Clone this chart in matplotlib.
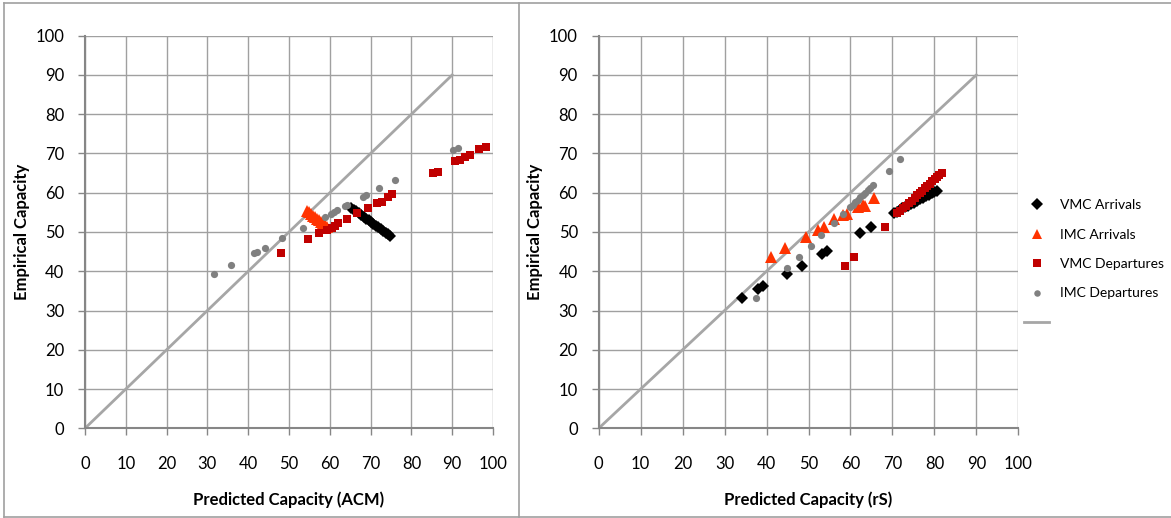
import matplotlib
matplotlib.use("Agg")
import matplotlib.pyplot as plt
from matplotlib.lines import Line2D

plt.rcParams["font.family"] = ["Lato", "DejaVu Sans"]

# ---- left panel: predicted by ACM ----
acm_vmc_arr_x = [65.3, 65.9, 66.5, 67.1, 67.7, 68.3, 68.9, 69.5, 70.1, 70.7, 71.3, 71.9, 72.5, 73.1, 73.7, 74.2, 74.7]
acm_vmc_arr_y = [56.2, 55.7, 55.3, 54.8, 54.4, 53.9, 53.4, 53.0, 52.5, 52.1, 51.6, 51.2, 50.7, 50.3, 49.8, 49.4, 49.0]
acm_imc_arr_x = [54.3, 54.8, 55.3, 55.8, 56.3, 56.8, 57.3, 57.8, 58.3, 58.8, 59.3]
acm_imc_arr_y = [55.4, 55.0, 54.6, 54.2, 53.8, 53.4, 53.0, 52.6, 52.2, 51.8, 51.4]
acm_vmc_dep_x = [48.0, 54.6, 57.4, 59.2, 60.5, 61.3, 62.1, 64.1, 66.6, 69.4, 71.5, 72.7, 74.3, 75.2,
                 85.3, 86.5, 90.7, 91.9, 93.1, 94.4, 96.6, 98.3]
acm_vmc_dep_y = [44.6, 48.1, 49.7, 50.5, 50.9, 51.5, 52.2, 53.3, 54.8, 56.2, 57.3, 57.7, 59.0, 59.6,
                 65.0, 65.3, 68.0, 68.3, 69.1, 69.6, 71.1, 71.6]
acm_imc_dep_x = [31.7, 35.8, 41.4, 42.2, 44.1, 48.4, 53.5, 58.8, 60.3, 61.0, 61.8, 63.7, 64.2,
                 68.2, 68.9, 72.1, 76.0, 90.3, 91.3]
acm_imc_dep_y = [39.3, 41.6, 44.6, 45.0, 46.0, 48.4, 51.1, 53.9, 54.7, 55.1, 55.5, 56.6, 56.9,
                 59.0, 59.4, 61.1, 63.2, 70.9, 71.3]

# ---- right panel: predicted by rS ----
rs_vmc_arr_x = [34.1, 38.0, 39.2, 44.8, 48.4, 53.1, 54.3, 62.3, 64.8,
                70.3, 71.0, 71.7, 72.4, 73.1, 73.8, 74.5, 75.2, 75.9, 76.6, 77.3, 78.0, 78.7, 79.4, 80.0, 80.7]
rs_vmc_arr_y = [33.1, 35.4, 36.2, 39.3, 41.4, 44.4, 45.2, 49.8, 51.2,
                54.8, 55.2, 55.6, 56.0, 56.3, 56.7, 57.1, 57.5, 57.9, 58.3, 58.7, 59.1, 59.5, 59.9, 60.2, 60.4]
rs_imc_arr_x = [41.1, 44.4, 49.4, 52.3, 53.7, 56.1, 58.3, 59.1, 61.9, 62.9, 63.5, 65.7]
rs_imc_arr_y = [43.7, 45.8, 48.8, 50.5, 51.2, 53.2, 54.3, 54.5, 56.3, 56.9, 56.6, 58.6]
rs_vmc_dep_x = [58.7, 60.9, 68.2, 71.0, 71.8, 72.5, 73.2, 73.9, 74.6, 75.3, 75.9, 76.5, 77.1, 77.7,
                78.3, 78.9, 79.5, 80.1, 80.7, 81.2, 81.7]
rs_vmc_dep_y = [41.4, 43.7, 51.2, 54.8, 55.4, 56.0, 56.7, 57.4, 58.0, 58.7, 59.3, 59.9, 60.5, 61.1,
                61.7, 62.3, 62.9, 63.5, 64.1, 64.6, 65.0]
rs_imc_dep_x = [37.4, 44.8, 47.8, 50.6, 53.0, 56.1, 58.2, 59.9, 60.5, 61.1, 61.7, 62.3, 62.9, 63.5,
                64.1, 64.7, 65.4, 69.1, 71.8]
rs_imc_dep_y = [33.3, 40.8, 43.7, 46.5, 49.2, 52.4, 54.5, 56.4, 57.0, 57.6, 58.2, 58.8, 59.4, 60.0,
                60.7, 61.3, 62.0, 65.5, 68.5]

diag = [0, 90]
ticks = list(range(0, 101, 10))
series_names = ["VMC Arrivals", "IMC Arrivals", "VMC Departures", "IMC Departures"]

styles = [dict(marker="D", color="#000000", ms=6.5),
          dict(marker="^", color="#FF3300", ms=8.5),
          dict(marker="s", color="#C00000", ms=6.2),
          dict(marker="o", color="#808080", ms=5.2)]

W, H = 1171, 518
fig = plt.figure(figsize=(W / 100, H / 100), dpi=100)


def px_axes(x0, x1, y0, y1):
    return fig.add_axes([x0 / W, 1 - y1 / H, (x1 - x0) / W, (y1 - y0) / H])


def draw(ax, data, xlabel):
    ax.plot(diag, diag, color="#A6A6A6", lw=2, zorder=2)
    for (xs, ys), st in zip(data, styles):
        ax.plot(xs, ys, ls="none", marker=st["marker"], color=st["color"],
                ms=st["ms"], mec=st["color"], mew=0, zorder=3)
    ax.set_xlim(0, 100)
    ax.set_ylim(0, 100)
    ax.set_xticks(ticks)
    ax.set_yticks(ticks)
    ax.grid(True, color="#A0A0A0", lw=1)
    ax.set_axisbelow(True)
    for s in ["top", "right"]:
        ax.spines[s].set_visible(False)
    for s in ["left", "bottom"]:
        ax.spines[s].set_color("#868686")
        ax.spines[s].set_linewidth(1.5)
    ax.tick_params(axis="x", length=5, width=1, color="#868686", pad=15, labelsize=12)
    ax.tick_params(axis="y", length=5, width=1, color="#868686", pad=10, labelsize=12)
    ax.set_xlabel(xlabel, fontsize=12, fontweight="bold", labelpad=14)
    ax.set_ylabel("Empirical Capacity", fontsize=12, fontweight="bold", labelpad=4)


ax1 = px_axes(85, 493, 35.7, 428.3)
draw(ax1, [(acm_vmc_arr_x, acm_vmc_arr_y), (acm_imc_arr_x, acm_imc_arr_y),
           (acm_vmc_dep_x, acm_vmc_dep_y), (acm_imc_dep_x, acm_imc_dep_y)],
     "Predicted Capacity (ACM)")

ax2 = px_axes(598.7, 1018.3, 35.7, 428.3)
draw(ax2, [(rs_vmc_arr_x, rs_vmc_arr_y), (rs_imc_arr_x, rs_imc_arr_y),
           (rs_vmc_dep_x, rs_vmc_dep_y), (rs_imc_dep_x, rs_imc_dep_y)],
     "Predicted Capacity (rS)")

# legend for the right panel
handles = [Line2D([], [], ls="none", marker=st["marker"], color=st["color"], ms=st["ms"] * 0.9, mew=0)
           for st in styles]
handles.append(Line2D([], [], color="#A6A6A6", lw=2))
labels = series_names + [""]
fig.legend(handles, labels, loc="upper left", bbox_to_anchor=(1016 / W, 1 - 191 / H),
           frameon=False, fontsize=10, labelspacing=1.25, handlelength=1.8, handletextpad=0.8,
           borderaxespad=0.2)

# panel borders
bc = "#A0A0A0"
for seg in [((4, 4), (3, 517)), ((519, 519), (3, 517)), ((4, 1171), (3, 3)), ((4, 1171), (517, 517))]:
    fig.add_artist(Line2D([x / W for x in seg[0]], [1 - y / H for y in seg[1]], color=bc, lw=1.2))

fig.savefig("out.png", dpi=100)
